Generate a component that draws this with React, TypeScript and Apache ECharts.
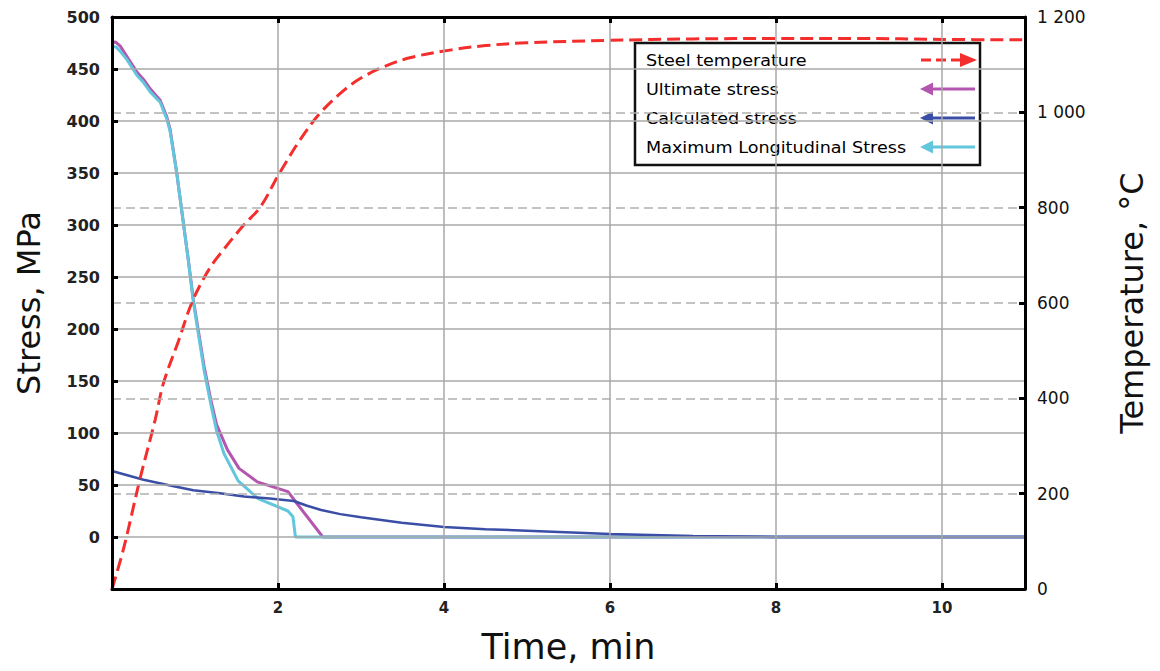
import React, { useEffect, useRef } from 'react';
import * as echarts from 'echarts';

// Time (min) / steel temperature (°C)
const steelTime = [0, 0.14, 0.34, 0.52, 0.62, 0.8, 0.96, 1.1, 1.22, 1.34, 1.45, 1.59, 1.79, 2.0, 2.28, 2.52, 2.8, 3.0, 3.28, 3.6, 4.09, 4.5, 5, 6, 7, 8, 9, 10, 11];
const steelTemp = [0, 85, 233, 355, 432, 520, 600, 650, 684, 711, 735, 764, 802, 867, 946, 1001, 1047, 1072, 1096, 1115, 1131, 1140, 1146, 1151, 1154, 1155, 1155, 1153, 1152];

// Ultimate stress (MPa)
const ultTime = [0, 0.04, 0.1, 0.18, 0.3, 0.38, 0.46, 0.58, 0.66, 0.7, 0.78, 0.84, 0.92, 0.98, 1.11, 1.19, 1.26, 1.39, 1.53, 1.75, 2.12, 2.24, 2.54, 11];
const ultStress = [475, 476, 472, 462, 447, 440, 431, 420, 404, 392, 350, 314, 266, 228, 164, 132, 108, 84, 66, 53, 43.6, 31, 0, 0];

// Maximum longitudinal stress (MPa)
const maxTime = [0, 0.05, 0.1, 0.18, 0.3, 0.38, 0.46, 0.58, 0.66, 0.7, 0.78, 0.84, 0.92, 0.98, 1.11, 1.19, 1.26, 1.35, 1.52, 1.76, 2.12, 2.18, 2.21, 11];
const maxStress = [472, 471, 467, 459, 444, 437, 428, 418, 402, 390, 350, 314, 266, 226, 160, 128, 102, 80, 54, 37, 25, 19.5, 0, 0];

// Calculated stress (MPa)
const calcTime = [0, 0.38, 0.7, 0.98, 1.3, 1.59, 1.9, 2.19, 2.35, 2.52, 2.75, 3.0, 3.49, 4, 4.5, 5, 6, 7, 8, 9, 10, 11];
const calcStress = [63.5, 55, 49.5, 45, 42, 39, 37, 34.6, 30, 26, 22, 19, 13.8, 9.6, 7.5, 6, 3, 1, 0, 0, 0, 0];

const legendNames = ['Steel temperature', 'Ultimate stress', 'Calculated stress', 'Maximum Longitudinal Stress'];

const RED = '#f42d2d';
const MAGENTA = '#b455b0';
const BLUE = '#3a4ea6';
const CYAN = '#62c6dc';

const zip = (xs: number[], ys: number[]) => xs.map((x, i) => [x, ys[i]]);

const FONT = 'DejaVu Sans';

const frameLine = { show: true, onZero: false, lineStyle: { color: '#000', width: 3 } };
const innerTick = { show: true, inside: true, length: 6, lineStyle: { color: '#000', width: 3 } };

function buildLegend() {
  const rowY = [60, 89, 118, 147];
  const colors = [RED, MAGENTA, BLUE, CYAN];
  const children: any[] = [
    {
      type: 'rect',
      shape: { x: 635, y: 43, width: 345, height: 122 },
      style: { fill: 'rgba(0,0,0,0)', stroke: '#111', lineWidth: 2.5 },
    },
  ];
  legendNames.forEach((name, i) => {
    const y = rowY[i];
    children.push({
      type: 'text',
      x: 646,
      y,
      scaleX: 1.1,
      style: { text: name, fontSize: 16, fontFamily: FONT, fill: '#000', verticalAlign: 'middle', align: 'left' },
    });
    if (i === 0) {
      children.push({
        type: 'line',
        shape: { x1: 921, y1: y, x2: 962, y2: y },
        style: { stroke: colors[i], lineWidth: 3, lineDash: [10, 5] },
      });
      children.push({
        type: 'polygon',
        shape: { points: [[960, y - 7], [977, y], [960, y + 7]] },
        style: { fill: colors[i] },
      });
    } else {
      children.push({
        type: 'line',
        shape: { x1: 930, y1: y, x2: 975, y2: y },
        style: { stroke: colors[i], lineWidth: 3 },
      });
      children.push({
        type: 'polygon',
        shape: { points: [[933, y - 6.5], [920, y], [933, y + 6.5]] },
        style: { fill: colors[i] },
      });
    }
  });
  return [{ type: 'group', z: 100, children }];
}

export default function App() {
  const ref = useRef<HTMLDivElement>(null);
  useEffect(() => {
    const chart = echarts.init(ref.current!, null, { renderer: 'svg' });
    const option: any = {
      animation: false,
      backgroundColor: '#fff',
      grid: {
        left: 112,
        right: 135,
        top: 17,
        bottom: 82,
        show: false,
        containLabel: false,
        outerBoundsMode: 'none',
      },
      xAxis: [
        {
          type: 'value',
          min: 0,
          max: 11,
          interval: 2,
          name: 'Time, min',
          nameLocation: 'middle',
          nameGap: 40,
          nameTextStyle: { fontSize: 35, fontFamily: FONT, color: '#111' },
          axisLine: frameLine,
          axisTick: innerTick,
          axisLabel: {
            margin: 11,
            fontSize: 15,
            fontWeight: 'bold',
            fontFamily: FONT,
            color: '#222',
            showMaxLabel: false,
            formatter: (v: number) => (v === 0 || v === 11 ? '' : String(v)),
          },
          splitLine: { show: true, lineStyle: { color: '#a8a8a8', width: 1.5 } },
          z: 10,
        },
        {
          type: 'value',
          position: 'top',
          min: 0,
          max: 11,
          interval: 2,
          axisLine: frameLine,
          axisTick: innerTick,
          axisLabel: { show: false },
          splitLine: { show: false },
          z: 10,
        },
      ],
      yAxis: [
        {
          type: 'value',
          min: -50,
          max: 500,
          interval: 50,
          name: 'Stress, MPa',
          nameLocation: 'middle',
          nameGap: 67,
          nameRotate: 90,
          nameTextStyle: { fontSize: 32, fontFamily: FONT, color: '#111' },
          axisLine: frameLine,
          axisTick: innerTick,
          axisLabel: {
            margin: 12,
            fontSize: 16,
            fontWeight: 'bold',
            fontFamily: FONT,
            color: '#222',
            formatter: (v: number) => (v < 0 ? '' : String(v)),
          },
          splitLine: { show: true, lineStyle: { color: '#a8a8a8', width: 1.5 } },
          z: 10,
        },
        {
          type: 'value',
          min: 0,
          max: 1200,
          interval: 200,
          position: 'right',
          name: 'Temperature, °C',
          nameLocation: 'middle',
          nameGap: 91,
          nameRotate: 90,
          nameTextStyle: { fontSize: 32, fontFamily: FONT, color: '#111' },
          axisLine: frameLine,
          axisTick: innerTick,
          axisLabel: {
            margin: 12,
            fontSize: 17,
            fontFamily: FONT,
            color: '#111',
            formatter: (v: number) =>
              v >= 1000 ? `${Math.floor(v / 1000)} ${String(v % 1000).padStart(3, '0')}` : String(v),
          },
          splitLine: { show: true, lineStyle: { color: '#b0b0b0', width: 1.5, type: [9, 5] } },
          z: 10,
        },
      ],
      series: [
        {
          name: legendNames[1],
          type: 'line',
          yAxisIndex: 0,
          showSymbol: false,
          data: zip(ultTime, ultStress),
          lineStyle: { color: MAGENTA, width: 3 },
          itemStyle: { color: MAGENTA },
          z: 3,
        },
        {
          name: legendNames[3],
          type: 'line',
          yAxisIndex: 0,
          showSymbol: false,
          data: zip(maxTime, maxStress),
          lineStyle: { color: CYAN, width: 3 },
          itemStyle: { color: CYAN },
          z: 4,
        },
        {
          name: legendNames[2],
          type: 'line',
          yAxisIndex: 0,
          showSymbol: false,
          data: zip(calcTime, calcStress),
          lineStyle: { color: BLUE, width: 2.5 },
          itemStyle: { color: BLUE },
          z: 5,
        },
        {
          name: legendNames[0],
          type: 'line',
          yAxisIndex: 1,
          showSymbol: false,
          smooth: 0.35,
          data: zip(steelTime, steelTemp),
          lineStyle: { color: RED, width: 3, type: [13, 6] },
          itemStyle: { color: RED },
          z: 6,
        },
      ],
      graphic: buildLegend(),
    };
    chart.setOption(option);
    return () => chart.dispose();
  }, []);
  return (
    <div
      ref={ref}
      style={{ position: 'fixed', left: 0, top: 0, width: 1160, height: 671, background: '#fff' }}
    />
  );
}
